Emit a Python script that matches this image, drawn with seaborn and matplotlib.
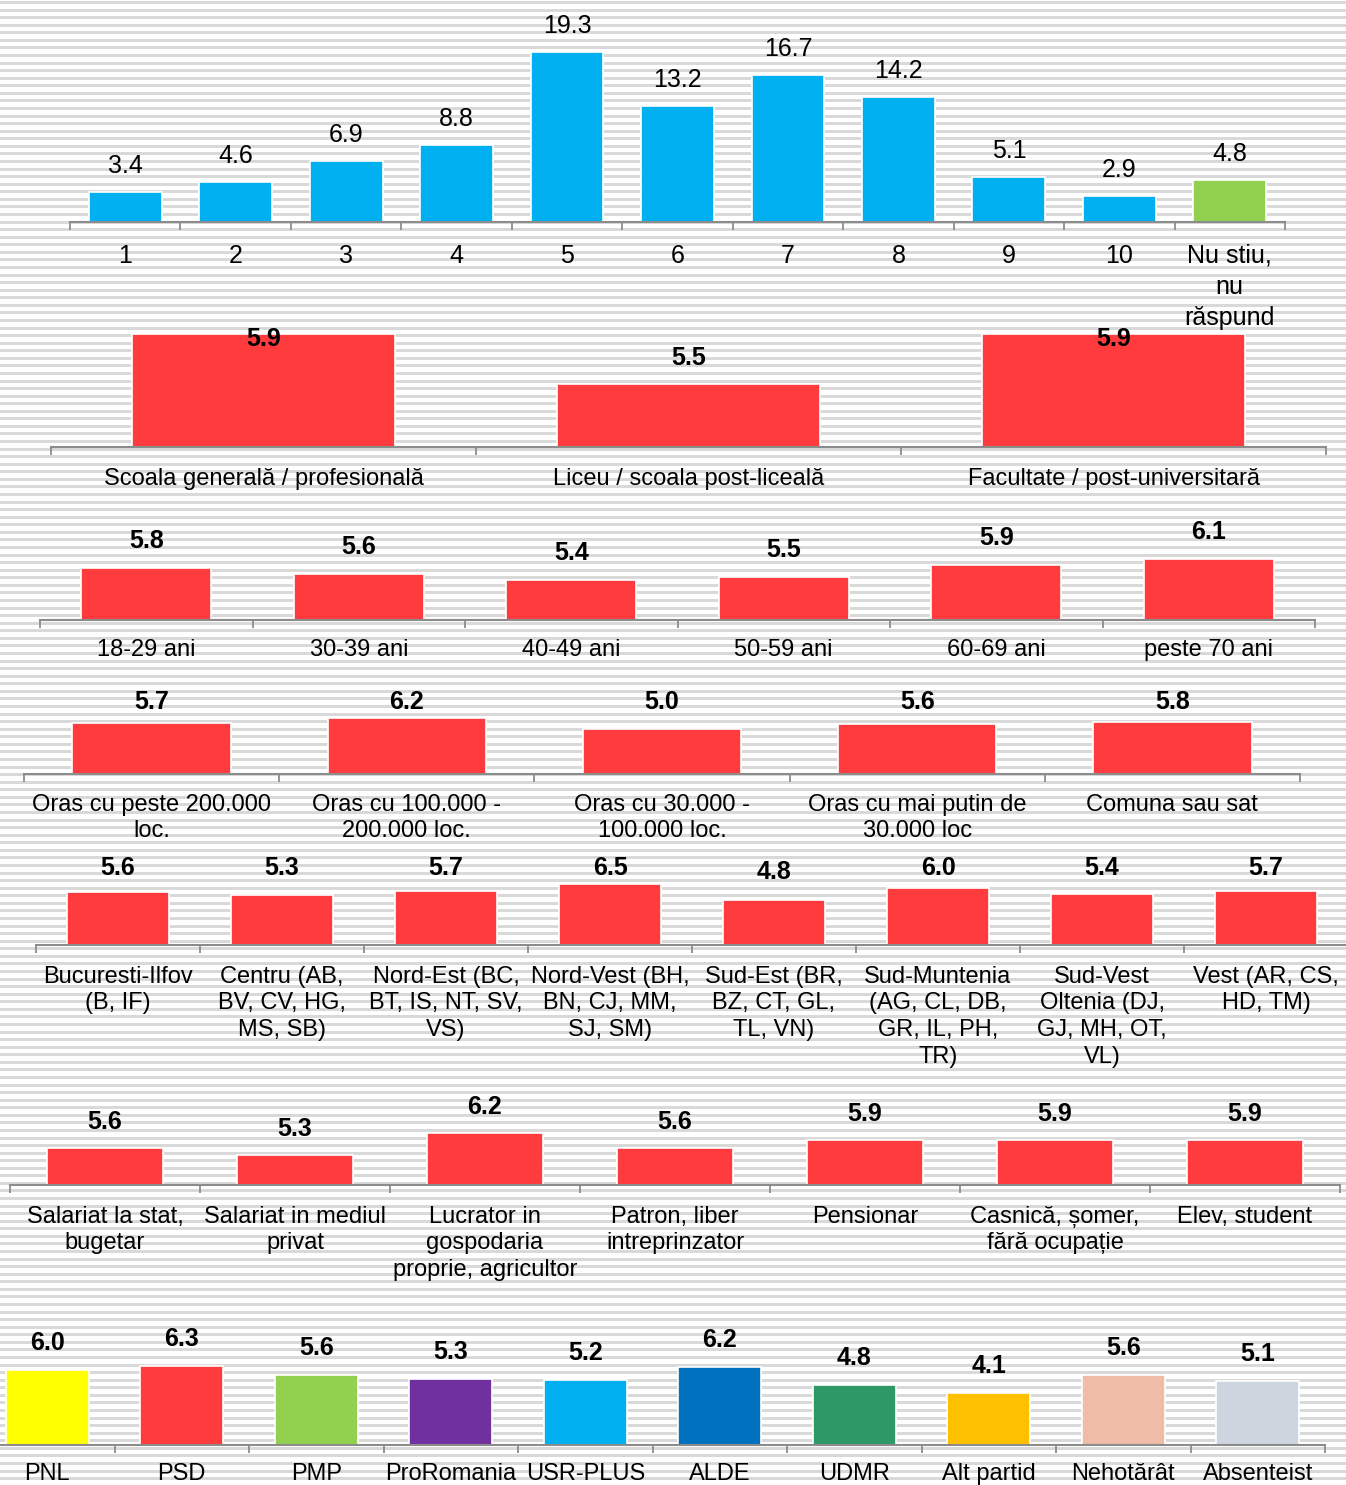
import numpy as np
import pandas as pd
import matplotlib
matplotlib.use("Agg")
import matplotlib.pyplot as plt
import seaborn as sns

plt.rcParams['font.family'] = ['Liberation Sans', 'DejaVu Sans']

# --- data ---------------------------------------------------------------
note_cats = ["1", "2", "3", "4", "5", "6", "7", "8", "9", "10", "Nu stiu,\nnu\nrăspund"]
note_vals = [3.4, 4.6, 6.9, 8.8, 19.3, 13.2, 16.7, 14.2, 5.1, 2.9, 4.8]
note_colors = ["#00B0F0"] * 10 + ["#92D050"]

edu_cats = ["Scoala generală / profesională", "Liceu / scoala post-liceală",
            "Facultate / post-universitară"]
edu_vals = [5.9, 5.5, 5.9]

age_cats = ["18-29 ani", "30-39 ani", "40-49 ani", "50-59 ani", "60-69 ani", "peste 70 ani"]
age_vals = [5.8, 5.6, 5.4, 5.5, 5.9, 6.1]

town_cats = ["Oras cu peste 200.000\nloc.", "Oras cu 100.000 -\n200.000 loc.",
             "Oras cu 30.000 -\n100.000 loc.", "Oras cu mai putin de\n30.000 loc",
             "Comuna sau sat"]
town_vals = [5.7, 6.2, 5.0, 5.6, 5.8]

region_cats = ["Bucuresti-Ilfov\n(B, IF)", "Centru (AB,\nBV, CV, HG,\nMS, SB)",
               "Nord-Est (BC,\nBT, IS, NT, SV,\nVS)", "Nord-Vest (BH,\nBN, CJ, MM,\nSJ, SM)",
               "Sud-Est (BR,\nBZ, CT, GL,\nTL, VN)", "Sud-Muntenia\n(AG, CL, DB,\nGR, IL, PH,\nTR)",
               "Sud-Vest\nOltenia (DJ,\nGJ, MH, OT,\nVL)", "Vest (AR, CS,\nHD, TM)"]
region_vals = [5.6, 5.3, 5.7, 6.5, 4.8, 6.0, 5.4, 5.7]

occ_cats = ["Salariat la stat,\nbugetar", "Salariat in mediul\nprivat",
            "Lucrator in\ngospodaria\nproprie, agricultor", "Patron, liber\nintreprinzator",
            "Pensionar", "Casnică, șomer,\nfără ocupație", "Elev, student"]
occ_vals = [5.6, 5.3, 6.2, 5.6, 5.9, 5.9, 5.9]

party_cats = ["PNL", "PSD", "PMP", "ProRomania", "USR-PLUS", "ALDE", "UDMR",
              "Alt partid", "Nehotărât", "Absenteist"]
party_vals = [6.0, 6.3, 5.6, 5.3, 5.2, 6.2, 4.8, 4.1, 5.6, 5.1]
party_colors = ["#FFFF00", "#FF3B3D", "#92D050", "#7030A0", "#00B0F0", "#0070C0",
                "#2E9966", "#FFC000", "#EFBCA8", "#CDD5DE"]

RED = "#FF3B3D"

# --- layout (pixels) ----------------------------------------------------
W, H = 1346, 1485
fig = plt.figure(figsize=(W / 100, H / 100), dpi=100)

# striped background
bg = fig.add_axes([0, 0, 1, 1], zorder=-10)
bg.set_xlim(0, 1)
bg.set_ylim(H, 0)
for y in np.arange(1, H, 7.57):
    bg.axhspan(y, y + 3, color="#d9d9d9", lw=0)
bg.axis("off")

# cats, vals, colors, left, right, base, top, ymin, scale, off, clamp, bold, vfs, tfs, lsp, width, pad
panels = [
    (note_cats, note_vals, note_colors, 70, 1285, 222, 0, 0, 8.8, 26, None, False, 18, 18, 1.37, 0.66, 15.5),
    (edu_cats, edu_vals, [RED] * 3, 51, 1326, 447, 325, 5.0, 125.8, 26, 339, True, 18, 17, 1.2, 0.62, 15),
    (age_cats, age_vals, [RED] * 6, 40, 1315, 620, 530, 4.1, 30.5, 27, None, True, 18, 17, 1.2, 0.61, 14),
    (town_cats, town_vals, [RED] * 5, 24, 1300, 774, 700, 0, 9.0, 27, 702, True, 18, 17, 1.25, 0.62, 14.5),
    (region_cats, region_vals, [RED] * 8, 36, 1348, 945, 860, 0, 9.45, 28, 868, True, 18, 17, 1.27, 0.62, 15),
    (occ_cats, occ_vals, [RED] * 7, 10, 1340, 1185, 1100, 4.1, 24.8, 26, None, True, 18, 17, 1.27, 0.61, 15),
    (party_cats, party_vals, party_colors, -20, 1325, 1444.5, 1330, 0, 12.45, 27, None, True, 18, 17, 1.2, 0.62, 13.5),
]

for (cats, vals, cols, left, right, base, top, ymin, scale, off, clamp,
     bold, vfs, tfs, lsp, width, pad) in panels:
    ax = fig.add_axes([left / W, 1 - base / H, (right - left) / W, (base - top) / H])
    ax.patch.set_alpha(0)
    df = pd.DataFrame({"cat": cats, "val": vals})
    sns.barplot(data=df, x="cat", y="val", hue="cat", palette=cols, legend=False,
                saturation=1, width=width, edgecolor="white", linewidth=1.2, ax=ax)
    n = len(cats)
    ax.set_xlim(-0.5, n - 0.5)
    ax.set_ylim(ymin, ymin + (base - top) / scale)
    ax.set_xlabel("")
    ax.set_ylabel("")
    ax.set_yticks([])
    for s in ["left", "right", "top"]:
        ax.spines[s].set_visible(False)
    ax.spines["bottom"].set_color("#8c8c8c")
    ax.spines["bottom"].set_linewidth(1.5)
    ax.set_xticks(np.arange(-0.5, n), minor=True)
    ax.tick_params(axis="x", which="minor", length=6, width=1.3, color="#8c8c8c", direction="out")
    ax.tick_params(axis="x", which="major", length=0, pad=pad, labelsize=tfs)
    for lab in ax.get_xticklabels():
        lab.set_linespacing(lsp)
    for cont in ax.containers:
        for bar in cont:
            h = bar.get_height()
            yv = h + off / scale
            if clamp is not None:
                yv = min(yv, ymin + (base - clamp) / scale)
            ax.text(bar.get_x() + bar.get_width() / 2, yv, f"{h:.1f}", ha="center", va="center",
                    fontsize=vfs, fontweight="bold" if bold else "normal", clip_on=False)

fig.savefig("out.png", dpi=100)
